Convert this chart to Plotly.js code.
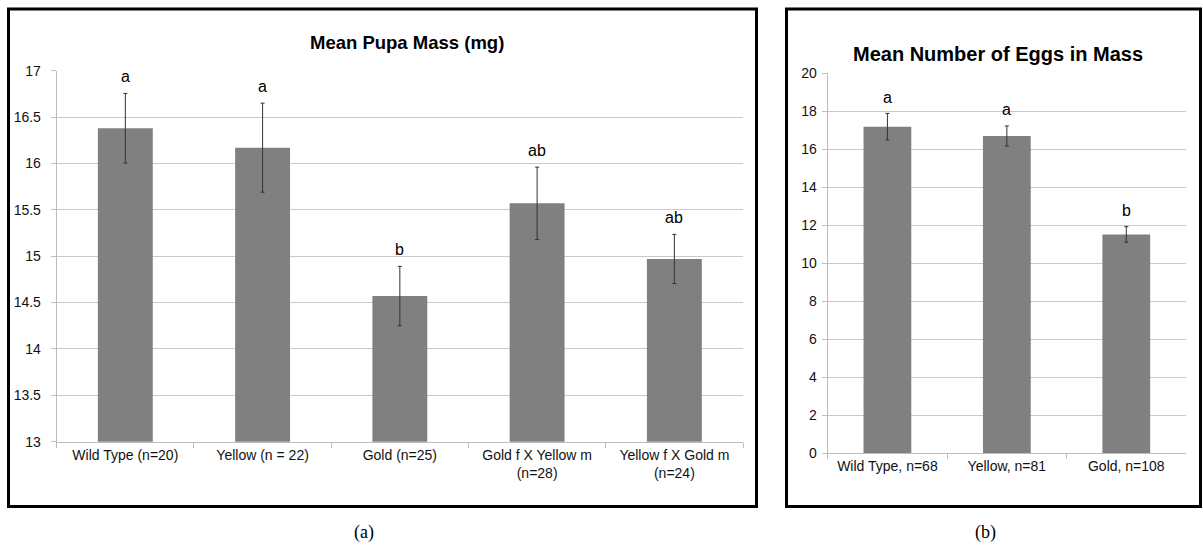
<!DOCTYPE html>
<html>
<head>
<meta charset="utf-8">
<script src="https://cdn.plot.ly/plotly-3.0.1.min.js"></script>
<style>html,body{margin:0;padding:0;background:#fff;}#chart{width:1203px;height:546px;}</style>
</head>
<body>
<div id="chart"></div>
<script>
// ---- Data ----
const catsA = ['Wild Type (n=20)', 'Yellow (n = 22)', 'Gold (n=25)', 'Gold f X Yellow m<br>(n=28)', 'Yellow f X Gold m<br>(n=24)'];
const meanA = [16.38, 16.17, 14.57, 15.57, 14.97];
const errA = [0.375, 0.48, 0.32, 0.39, 0.265];
const lettersA = ['a', 'a', 'b', 'ab', 'ab'];
const titleA = 'Mean Pupa Mass (mg)';
const yTicksA = [13, 13.5, 14, 14.5, 15, 15.5, 16, 16.5, 17];

const catsB = ['Wild Type, n=68', 'Yellow, n=81', 'Gold, n=108'];
const meanB = [17.19, 16.70, 11.52];
const errB = [0.70, 0.53, 0.41];
const lettersB = ['a', 'a', 'b'];
const titleB = 'Mean Number of Eggs in Mass';
const yTicksB = [0, 2, 4, 6, 8, 10, 12, 14, 16, 18, 20];

// ---- Layout helpers (pixel -> paper) ----
const W = 1203, H = 546;
const px = v => v / W;
const py = v => 1 - v / H;

const FONT = 'Arial, "Liberation Sans", sans-serif';
const barColor = '#808080';
const gridColor = '#c9c9c9';
const axisColor = '#bdbdbd';

const traces = [
  {
    type: 'bar', x: catsA, y: meanA, xaxis: 'x', yaxis: 'y',
    marker: {color: barColor, line: {width: 0}},
    error_y: {type: 'data', array: errA, visible: true, color: '#333333', thickness: 1, width: 2},
    hoverinfo: 'skip'
  },
  {
    type: 'bar', x: catsB, y: meanB, xaxis: 'x2', yaxis: 'y2',
    marker: {color: barColor, line: {width: 0}},
    error_y: {type: 'data', array: errB, visible: true, color: '#333333', thickness: 1, width: 2},
    hoverinfo: 'skip'
  }
];

const annotations = [];
catsA.forEach((c, i) => annotations.push({
  xref: 'x', yref: 'y', x: c, y: meanA[i] + errA[i], text: lettersA[i],
  showarrow: false, yanchor: 'middle', yshift: 17,
  font: {family: FONT, size: 16, color: '#000'}
}));
catsB.forEach((c, i) => annotations.push({
  xref: 'x2', yref: 'y2', x: c, y: meanB[i] + errB[i], text: lettersB[i],
  showarrow: false, yanchor: 'middle', yshift: 16,
  font: {family: FONT, size: 16, color: '#000'}
}));
annotations.push({
  xref: 'paper', yref: 'paper', x: px(407), y: py(43), text: '<b>' + titleA + '</b>',
  showarrow: false, xanchor: 'center', yanchor: 'middle',
  font: {family: FONT, size: 18.5, color: '#000'}
});
annotations.push({
  xref: 'paper', yref: 'paper', x: px(998), y: py(54), text: '<b>' + titleB + '</b>',
  showarrow: false, xanchor: 'center', yanchor: 'middle',
  font: {family: FONT, size: 20, color: '#000'}
});
annotations.push({
  xref: 'paper', yref: 'paper', x: px(364), y: py(532), text: '(a)',
  showarrow: false, xanchor: 'center', yanchor: 'middle',
  font: {family: '"Liberation Serif", "Times New Roman", serif', size: 18, color: '#000'}
});
annotations.push({
  xref: 'paper', yref: 'paper', x: px(986), y: py(532), text: '(b)',
  showarrow: false, xanchor: 'center', yanchor: 'middle',
  font: {family: '"Liberation Serif", "Times New Roman", serif', size: 18, color: '#000'}
});

const xCommon = {
  type: 'category', showgrid: false, showline: true, linecolor: axisColor, linewidth: 1,
  ticks: 'outside', tickson: 'boundaries', ticklen: 5, tickcolor: axisColor, tickwidth: 1,
  tickfont: {family: FONT, size: 14, color: '#111'}, zeroline: false, fixedrange: true
};
const yCommon = {
  showgrid: true, gridcolor: gridColor, gridwidth: 1, showline: true, linecolor: axisColor, linewidth: 1,
  ticks: 'outside', ticklen: 5, tickcolor: axisColor, tickwidth: 1,
  tickfont: {family: FONT, size: 14, color: '#111'}, zeroline: false, fixedrange: true
};

const layout = {
  width: W, height: H,
  margin: {l: 0, r: 0, t: 0, b: 0},
  paper_bgcolor: '#fff', plot_bgcolor: '#fff',
  showlegend: false, bargap: 0.6,
  xaxis: Object.assign({}, xCommon, {domain: [px(56.7), px(743)], anchor: 'y'}),
  yaxis: Object.assign({}, yCommon, {domain: [py(441.7), py(70.7)], range: [13, 17],
    tickmode: 'array', tickvals: yTicksA, ticktext: yTicksA.map(String), anchor: 'x', ticklabelstandoff: 7}),
  xaxis2: Object.assign({}, xCommon, {domain: [px(827.7), px(1186)], anchor: 'y2'}),
  yaxis2: Object.assign({}, yCommon, {domain: [py(453.3), py(73.3)], range: [0, 20],
    tickmode: 'array', tickvals: yTicksB, ticktext: yTicksB.map(String), anchor: 'x2', ticklabelstandoff: 2}),
  annotations: annotations,
  shapes: [
    {type: 'rect', xref: 'paper', yref: 'paper', x0: px(8.5), x1: px(756.5), y0: py(506.5), y1: py(9),
     line: {color: '#000', width: 3}, fillcolor: 'rgba(0,0,0,0)'},
    {type: 'rect', xref: 'paper', yref: 'paper', x0: px(786.5), x1: px(1200.5), y0: py(506.5), y1: py(9),
     line: {color: '#000', width: 3}, fillcolor: 'rgba(0,0,0,0)'}
  ]
};

Plotly.newPlot('chart', traces, layout, {staticPlot: true, displayModeBar: false});
</script>
</body>
</html>
